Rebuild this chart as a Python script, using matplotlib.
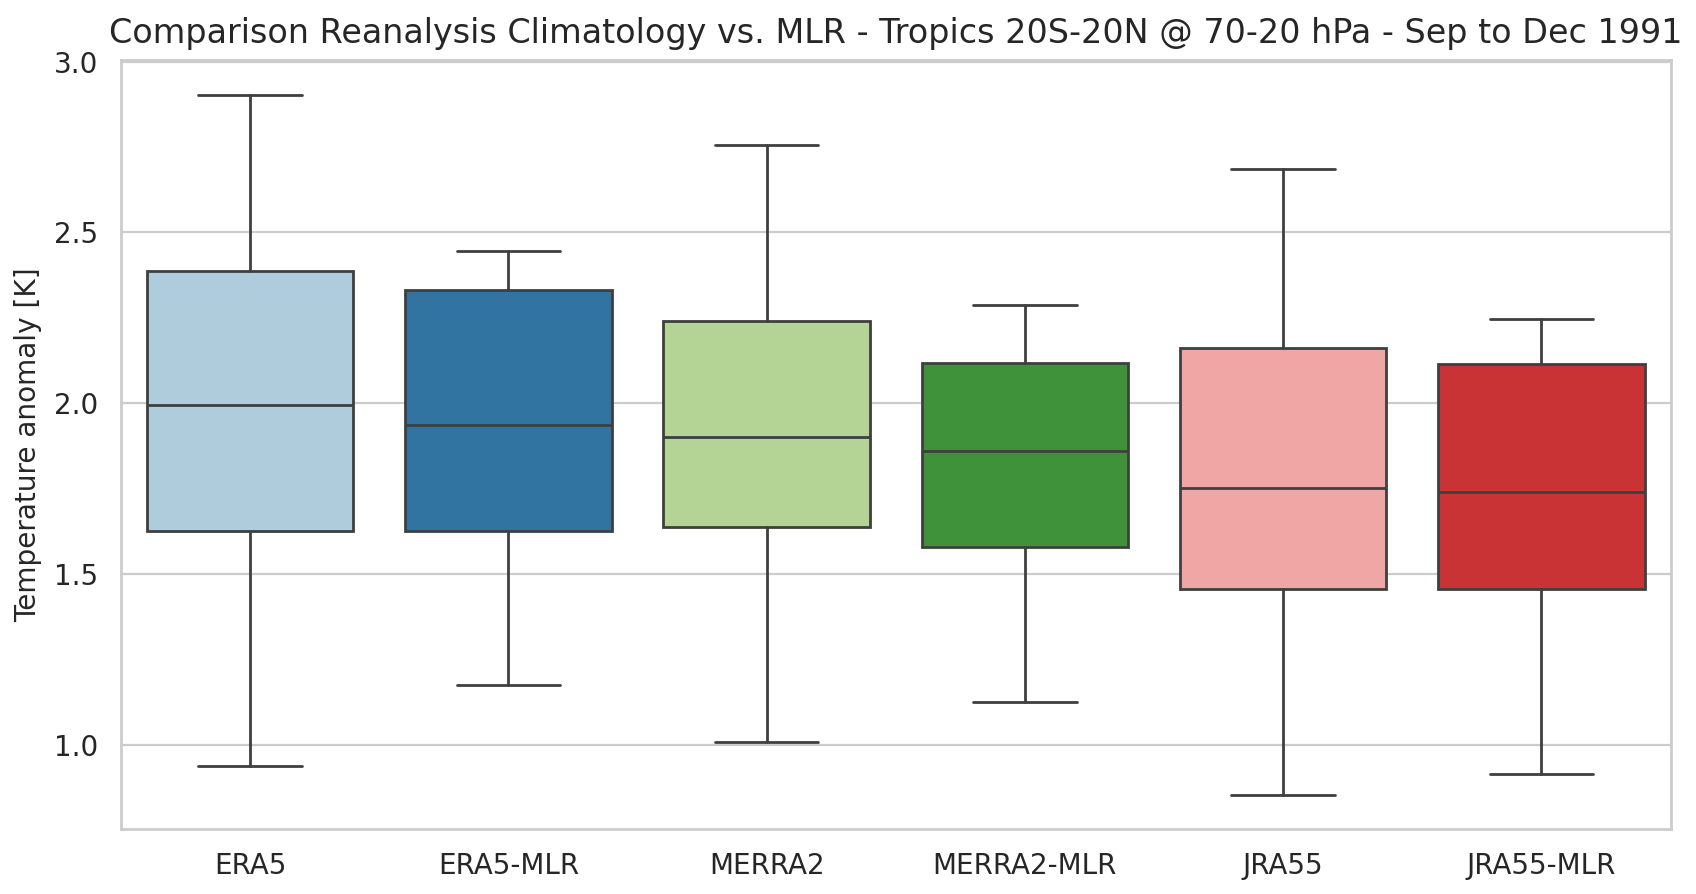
import matplotlib
matplotlib.use("Agg")
import matplotlib.pyplot as plt
import seaborn as sns

categories = ["ERA5", "ERA5-MLR", "MERRA2", "MERRA2-MLR", "JRA55", "JRA55-MLR"]
whisker_low = [0.938, 1.175, 1.007, 1.125, 0.853, 0.914]
q1 = [1.625, 1.625, 1.637, 1.578, 1.457, 1.457]
median = [1.994, 1.936, 1.901, 1.860, 1.752, 1.740]
q3 = [2.386, 2.330, 2.241, 2.117, 2.161, 2.114]
whisker_high = [2.903, 2.446, 2.756, 2.288, 2.687, 2.247]

sns.set_theme(style="whitegrid", context="paper")
palette = [sns.desaturate(c, 0.75) for c in sns.color_palette("Paired", 6)]
line_color = "#3f3f3f"

fig = plt.figure(figsize=(8.48, 4.47), dpi=200)
ax = fig.add_axes([0.0713, 0.0727, 0.9137, 0.8602])

stats = []
for i, name in enumerate(categories):
    stats.append(dict(label=name, whislo=whisker_low[i], q1=q1[i], med=median[i],
                      q3=q3[i], whishi=whisker_high[i], fliers=[]))

bp = ax.bxp(stats, positions=range(len(categories)), widths=0.8, patch_artist=True,
            showfliers=False, capwidths=0.4,
            boxprops=dict(edgecolor=line_color, linewidth=1.0),
            whiskerprops=dict(color=line_color, linewidth=1.0),
            capprops=dict(color=line_color, linewidth=1.0),
            medianprops=dict(color=line_color, linewidth=1.0))
for patch, c in zip(bp["boxes"], palette):
    patch.set_facecolor(c)

ax.xaxis.grid(False)
ax.set_xlim(-0.5, len(categories) - 0.5)
ax.set_ylim(0.753, 3.005)
ax.set_yticks([1.0, 1.5, 2.0, 2.5, 3.0])
ax.set_xticks(range(len(categories)))
ax.set_xticklabels(categories)
ax.tick_params(labelsize=10.0)
ax.set_ylabel("Temperature anomaly [K]", fontsize=10.1)
ax.set_title("Comparison Reanalysis Climatology vs. MLR - Tropics 20S-20N @ 70-20 hPa - Sep to Dec 1991",
             fontsize=12.0)

fig.savefig("out.png", dpi=200)
